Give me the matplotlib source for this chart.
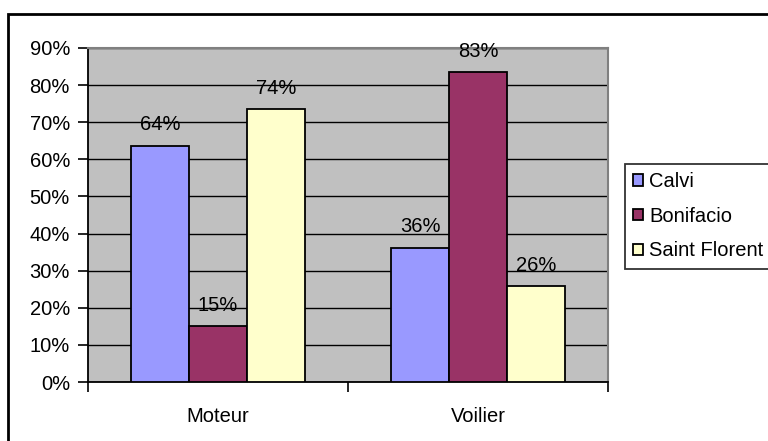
import numpy as np
import matplotlib.pyplot as plt
from matplotlib.patches import Rectangle

# data
categories = ["Moteur", "Voilier"]
series = ["Calvi", "Bonifacio", "Saint Florent"]
calvi = [0.637, 0.362]
bonifacio = [0.151, 0.835]
saint_florent = [0.736, 0.259]
labels_calvi = ["64%", "36%"]
labels_bonifacio = ["15%", "83%"]
labels_sf = ["74%", "26%"]

colors = ["#9999FF", "#993366", "#FFFFCC"]

plt.rcParams["font.family"] = ["Liberation Sans", "DejaVu Sans"]

fig = plt.figure(figsize=(7.68, 4.41), dpi=100)
W, H = 768, 441
ax = fig.add_axes([88 / W, 1 - 382 / H, (608 - 88) / W, (382 - 48) / H])
ax.set_facecolor("#C0C0C0")

fs = 14.5
x = np.arange(len(categories))
width = 0.222
all_vals = [calvi, bonifacio, saint_florent]
all_labels = [labels_calvi, labels_bonifacio, labels_sf]
for i, (vals, labs) in enumerate(zip(all_vals, all_labels)):
    pos = x + (i - 1) * width
    ax.bar(pos, vals, width, color=colors[i], edgecolor="black",
           linewidth=1.3, label=series[i], zorder=3)
    for p, v, l in zip(pos, vals, labs):
        ax.annotate(l, (p, v), xytext=(0, 15), textcoords="offset points",
                    ha="center", va="center", fontsize=fs, zorder=4)

ax.set_xlim(-0.5, 1.5)
ax.set_ylim(0, 0.9)
ax.set_yticks(np.arange(0, 0.91, 0.1))
ax.set_yticklabels([f"{int(round(t * 100))}%" for t in np.arange(0, 0.91, 0.1)])
ax.yaxis.grid(True, color="black", linewidth=1.0, zorder=1)
ax.set_axisbelow(True)

ax.set_xticks(x)
ax.set_xticklabels(categories)
ax.set_xticks([-0.5, 0.5, 1.5], minor=True)
ax.tick_params(axis="x", which="major", length=0, pad=18, labelsize=fs)
ax.tick_params(axis="x", which="minor", length=7, width=1.2, direction="out")
ax.tick_params(axis="y", length=7, width=1.2, pad=6, labelsize=fs)

for s in ["top", "right"]:
    ax.spines[s].set_color("#808080")
    ax.spines[s].set_linewidth(1.5)
for s in ["left", "bottom"]:
    ax.spines[s].set_color("black")
    ax.spines[s].set_linewidth(1.3)

leg = fig.legend(loc="upper left", bbox_to_anchor=(625 / W, 1 - 164 / H),
                 bbox_transform=fig.transFigure, borderaxespad=0,
                 fontsize=fs, frameon=True, fancybox=False, edgecolor="black",
                 handlelength=0.5, handleheight=0.5, handletextpad=0.3,
                 labelspacing=0.78, borderpad=0.4)
leg.get_frame().set_linewidth(1.3)

fig.patches.append(Rectangle((8 / W, -0.1), 1.2, 1 - 14 / H + 0.1, fill=False,
                             edgecolor="black", linewidth=2,
                             transform=fig.transFigure, clip_on=False))

fig.savefig("out.png", dpi=100)
